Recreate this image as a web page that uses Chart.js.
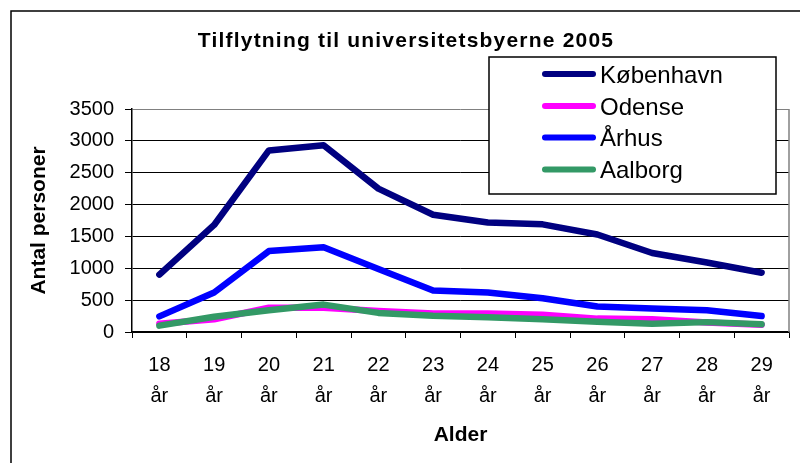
<!DOCTYPE html>
<html>
<head>
<meta charset="utf-8">
<script src="https://cdn.jsdelivr.net/npm/chart.js@4"></script>
<style>
  body { margin: 0; background: #fff; }
  canvas { display: block; }
</style>
</head>
<body>
<canvas id="grafico" width="800" height="463"></canvas>
<script>
// data
const alder = ['18', '19', '20', '21', '22', '23', '24', '25', '26', '27', '28', '29'];
const koebenhavn = [900, 1680, 2850, 2930, 2250, 1840, 1720, 1690, 1530, 1240, 1090, 930];
const odense = [130, 200, 380, 380, 330, 290, 290, 270, 210, 200, 150, 115];
const aarhus = [245, 620, 1270, 1330, 990, 650, 620, 530, 400, 370, 340, 250];
const aalborg = [100, 240, 340, 430, 300, 255, 230, 200, 160, 130, 155, 120];
const yTicks = [0, 500, 1000, 1500, 2000, 2500, 3000, 3500];

const FONT = "'Liberation Sans', Arial, sans-serif";

function serie(label, data, color, order) {
  return {
    label, data, order,
    borderColor: color,
    backgroundColor: color,
    borderWidth: 6.5,
    borderCapStyle: 'round',
    borderJoinStyle: 'round',
    pointRadius: 0,
    tension: 0,
    fill: false
  };
}

// frame, title, legend box and right border of the plot
const pynt = {
  id: 'pynt',
  beforeDraw(chart) {
    const c = chart.ctx;
    c.save();
    c.strokeStyle = '#000';
    c.lineWidth = 1.5;
    c.strokeRect(11, 11, 820, 480);
    c.restore();
  },
  afterDraw(chart) {
    const c = chart.ctx;
    const a = chart.chartArea;
    c.save();
    // right border of plot
    c.strokeStyle = '#808080';
    c.lineWidth = 1.5;
    c.beginPath();
    c.moveTo(a.right, a.top);
    c.lineTo(a.right, a.bottom);
    c.stroke();

    // title
    c.fillStyle = '#000';
    c.font = 'bold 21px ' + FONT;
    c.letterSpacing = '1.2px';
    c.textAlign = 'center';
    c.textBaseline = 'alphabetic';
    c.fillText('Tilflytning til universitetsbyerne 2005', 406, 47);
    c.letterSpacing = '0px';

    // legend
    c.fillStyle = '#fff';
    c.fillRect(489, 57, 287, 137);
    c.strokeStyle = '#000';
    c.lineWidth = 1.5;
    c.strokeRect(489, 57, 287, 137);
    c.font = '24px ' + FONT;
    c.textAlign = 'left';
    const rows = [74, 106, 137.5, 169.5];
    chart.data.datasets.forEach((ds, i) => {
      const y = rows[i];
      c.strokeStyle = ds.borderColor;
      c.lineWidth = 6;
      c.lineCap = 'round';
      c.beginPath();
      c.moveTo(545, y);
      c.lineTo(593, y);
      c.stroke();
      c.fillStyle = '#000';
      c.fillText(ds.label, 600, y + 8.7);
    });
    c.restore();
  }
};

new Chart(document.getElementById('grafico'), {
  type: 'line',
  data: {
    labels: alder,
    datasets: [
      serie('København', koebenhavn, '#000080', 4),
      serie('Odense', odense, '#FF00FF', 3),
      serie('Århus', aarhus, '#0000FF', 2),
      serie('Aalborg', aalborg, '#339966', 1)
    ]
  },
  options: {
    responsive: false,
    animation: false,
    layout: { padding: { left: 0, right: 11, top: 109, bottom: 0 } },
    plugins: {
      legend: { display: false },
      title: { display: false },
      tooltip: { enabled: false }
    },
    scales: {
      x: {
        offset: true,
        afterFit: s => { s.height = 131; },
        grid: { drawOnChartArea: false, drawTicks: true, tickLength: 6, color: '#000', offset: true },
        border: { color: '#000', width: 1.5 },
        ticks: {
          color: '#000',
          font: { family: FONT, size: 20, lineHeight: 1.55 },
          padding: 12,
          maxRotation: 0,
          autoSkip: false,
          callback: (v, i) => [alder[i], 'år']
        },
        title: {
          display: true,
          text: 'Alder',
          color: '#000',
          font: { family: FONT, size: 21, weight: 'bold' },
          padding: { top: 0, bottom: 15 }
        }
      },
      y: {
        min: 0,
        max: 3500,
        afterFit: s => { s.width = 132; },
        afterBuildTicks: s => { s.ticks = yTicks.map(v => ({ value: v })); },
        grid: {
          color: ctx => (ctx.tick && ctx.tick.value === 3500 ? '#808080' : '#000'),
          lineWidth: 1,
          tickLength: 7,
          tickColor: '#000'
        },
        border: { color: '#000', width: 1.5 },
        ticks: {
          color: '#000',
          font: { family: FONT, size: 20 },
          padding: 11,
          callback: v => String(v)
        },
        title: {
          display: true,
          text: 'Antal personer',
          color: '#000',
          font: { family: FONT, size: 21, weight: 'bold' },
          padding: { top: 27, bottom: 0 }
        }
      }
    }
  },
  plugins: [pynt]
});
</script>
</body>
</html>
